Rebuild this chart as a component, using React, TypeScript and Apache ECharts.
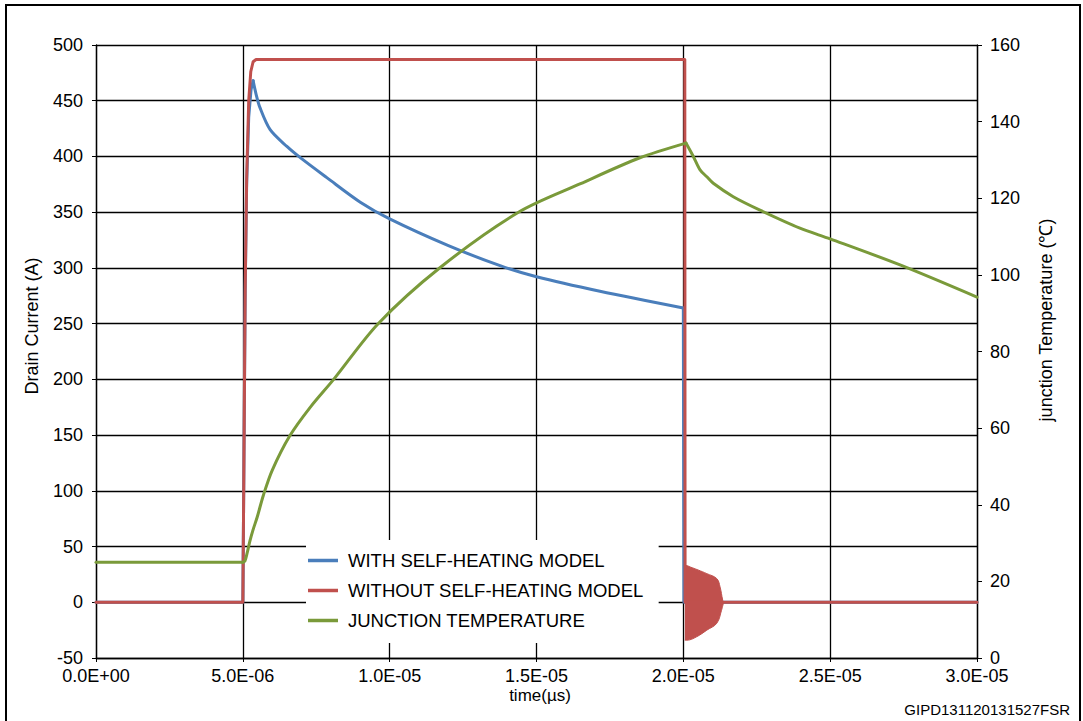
import React, { useEffect, useRef } from 'react';
import * as echarts from 'echarts';

// ---------- data ----------
const X_MIN = 0;
const X_MAX = 3e-5;
const X_STEP = 5e-6;
const CURRENT_MIN = -50;
const CURRENT_MAX = 500;
const CURRENT_STEP = 50;
const TEMP_MIN = 0;
const TEMP_MAX = 160;
const TEMP_STEP = 20;

const SERIES_NAMES = ['WITH SELF-HEATING MODEL', 'WITHOUT SELF-HEATING MODEL', 'JUNCTION TEMPERATURE'];
const X_TITLE = 'time(µs)';
const Y_LEFT_TITLE = 'Drain Current (A)';
const Y_RIGHT_TITLE = 'junction Temperature (℃)';
const FIGURE_ID = 'GIPD131120131527FSR';

// with self-heating (drain current, A): turn-on edge, decay, turn-off
const blueRiseTime = [0, 5.0e-6, 5.03e-6, 5.08e-6, 5.13e-6, 5.2e-6, 5.28e-6, 5.35e-6];
const blueRiseCurrent = [0, 0, 100, 280, 375, 435, 460, 468];
const blueDecayTime = [5.35e-6, 5.45e-6, 5.58e-6, 5.93e-6, 6.5e-6, 7.0e-6, 7.86e-6, 9.0e-6, 1.0e-5, 1.2e-5, 1.376e-5, 1.5e-5, 1.716e-5, 2.0e-5];
const blueDecayCurrent = [468, 456, 444, 424, 409, 398, 381, 359, 344, 320, 302, 292, 279, 264];
const blueOffTime = [2.0e-5, 2.002e-5, 3.0e-5];
const blueOffCurrent = [264, 0, 0];

// without self-heating (drain current, A)
const redTime = [0, 5.0e-6, 5.03e-6, 5.08e-6, 5.13e-6, 5.2e-6, 5.27e-6, 5.35e-6, 5.45e-6, 2.005e-5, 2.006e-5, 3.0e-5];
const redCurrent = [0, 0, 100, 280, 380, 450, 476, 485, 487, 487, 0, 0];

// ringing after turn-off: upper and lower envelope (A)
const ringUpperTime = [2.005e-5, 2.009e-5, 2.023e-5, 2.05e-5, 2.08e-5, 2.114e-5, 2.125e-5, 2.134e-5, 2.137e-5];
const ringUpper = [33, 33, 31.7, 29, 25.7, 21.2, 13.8, 2, 0];
const ringLowerTime = [2.005e-5, 2.012e-5, 2.045e-5, 2.08e-5, 2.114e-5, 2.13e-5, 2.137e-5];
const ringLower = [-34, -34, -31, -25, -18.8, -7.2, 0];

// junction temperature (°C): before turn-on, heating, cooling
const tempFlatTime = [0, 5.0e-6];
const tempFlatValue = [25, 25];
const tempHeatTime = [5.0e-6, 5.07e-6, 5.15e-6, 5.24e-6, 5.35e-6, 5.49e-6, 5.7e-6, 6.0e-6, 6.6e-6, 7.3e-6, 8.1e-6, 9.6e-6, 1.17e-5, 1.44e-5, 1.65e-5, 1.85e-5, 2.009e-5];
const tempHeatValue = [25, 25.3, 27.5, 30.5, 33.5, 36.8, 42.5, 49, 58, 65.5, 72.8, 87.2, 101.8, 116.4, 123.8, 130.5, 134.4];
const tempCoolTime = [2.009e-5, 2.034e-5, 2.057e-5, 2.08e-5, 2.102e-5, 2.17e-5, 2.261e-5, 2.397e-5, 2.5e-5, 2.738e-5, 3.0e-5];
const tempCoolValue = [134.4, 130.9, 127.4, 125.6, 123.9, 120.4, 116.9, 112.2, 109.4, 102.6, 94.2];

const COLORS = ['#4a7ebb', '#c0504d', '#7a9a3a'];
const FONT = '"Liberation Sans", Arial, sans-serif';

const zip = (t: number[], v: number[]) => t.map((x, i) => [x, v[i]]);

const fmtExp = (v: number) => {
  if (Math.abs(v) < 1e-15) return '0.0E+00';
  const [m, e] = v.toExponential(1).split('e');
  const n = parseInt(e, 10);
  return m + 'E' + (n < 0 ? '-' : '+') + String(Math.abs(n)).padStart(2, '0');
};

export default function App() {
  const ref = useRef<HTMLDivElement>(null);
  useEffect(() => {
    if (!ref.current) return;
    const chart = echarts.init(ref.current, undefined, { renderer: 'svg' });
    const black = '#000';
    const lineW = 3;
    const line = (name: string, data: number[][], color: string, z: number, extra: any = {}) => ({
      name,
      type: 'line',
      data,
      symbol: 'none',
      color,
      lineStyle: { width: lineW, color, cap: 'round', join: 'round' },
      z,
      ...extra,
    });
    chart.setOption({
      animation: false,
      backgroundColor: '#fff',
      grid: { left: 96, right: 106, top: 45, bottom: 63 },
      legend: {
        data: SERIES_NAMES,
        orient: 'vertical',
        left: 306,
        top: 540,
        padding: [11, 15, 13, 2],
        backgroundColor: '#fff',
        icon: 'rect',
        itemWidth: 30,
        itemHeight: 3.5,
        itemGap: 11,
        textStyle: { fontSize: 18.5, lineHeight: 18, color: black, fontFamily: FONT, padding: [0, 0, 0, 5] },
      },
      xAxis: {
        type: 'value',
        min: X_MIN,
        max: X_MAX,
        interval: X_STEP,
        axisLine: { onZero: false, lineStyle: { color: black, width: 1.3 } },
        axisTick: { show: true, length: 4, lineStyle: { color: black } },
        axisLabel: { formatter: fmtExp, color: black, fontSize: 18, fontFamily: FONT, margin: 9 },
        splitLine: { show: true, lineStyle: { color: black, width: 1.3 } },
      },
      yAxis: [
        {
          type: 'value',
          min: CURRENT_MIN,
          max: CURRENT_MAX,
          interval: CURRENT_STEP,
          axisLine: { show: true, lineStyle: { color: black, width: 1.3 } },
          axisTick: { show: true, length: 4, lineStyle: { color: black } },
          axisLabel: { color: black, fontSize: 18, fontFamily: FONT, margin: 13 },
          splitLine: { show: true, lineStyle: { color: black, width: 1.3 } },
        },
        {
          type: 'value',
          min: TEMP_MIN,
          max: TEMP_MAX,
          interval: TEMP_STEP,
          position: 'right',
          axisLine: { show: true, lineStyle: { color: black, width: 1.3 } },
          axisTick: { show: true, length: 5, lineStyle: { color: black } },
          axisLabel: { color: black, fontSize: 18, fontFamily: FONT, margin: 13 },
          splitLine: { show: false },
        },
      ],
      series: [
        line(SERIES_NAMES[0], zip(blueRiseTime, blueRiseCurrent), COLORS[0], 2),
        line('blueDecay', zip(blueDecayTime, blueDecayCurrent), COLORS[0], 2, { smooth: 0.3 }),
        line('blueOff', zip(blueOffTime, blueOffCurrent), COLORS[0], 2),
        line(SERIES_NAMES[1], zip(redTime, redCurrent), COLORS[1], 3),
        line('ringUpper', zip(ringUpperTime, ringUpper), COLORS[1], 3, {
          smooth: 0.4,
          lineStyle: { width: 1, color: COLORS[1] },
          areaStyle: { color: COLORS[1], opacity: 1 },
        }),
        line('ringLower', zip(ringLowerTime, ringLower), COLORS[1], 3, {
          smooth: 0.4,
          lineStyle: { width: 1, color: COLORS[1] },
          areaStyle: { color: COLORS[1], opacity: 1 },
        }),
        line(SERIES_NAMES[2], zip(tempFlatTime, tempFlatValue), COLORS[2], 4, { yAxisIndex: 1 }),
        line('tempHeat', zip(tempHeatTime, tempHeatValue), COLORS[2], 4, { yAxisIndex: 1, smooth: 0.3 }),
        line('tempCool', zip(tempCoolTime, tempCoolValue), COLORS[2], 4, { yAxisIndex: 1, smooth: 0.3 }),
      ],
      graphic: [
        {
          type: 'rect',
          shape: { x: 6, y: 5, width: 1074, height: 740 },
          style: { fill: 'none', stroke: black, lineWidth: 2 },
          silent: true,
          z: 100,
        },
        {
          type: 'text',
          x: 32,
          y: 326,
          rotation: Math.PI / 2,
          style: { text: Y_LEFT_TITLE, fontSize: 18, fontFamily: FONT, fill: black, align: 'center', verticalAlign: 'middle' },
        },
        {
          type: 'text',
          x: 1046,
          y: 320,
          rotation: Math.PI / 2,
          style: { text: Y_RIGHT_TITLE, fontSize: 18, fontFamily: FONT, fill: black, align: 'center', verticalAlign: 'middle' },
        },
        {
          type: 'text',
          x: 540,
          y: 695,
          style: { text: X_TITLE, fontSize: 17, fontFamily: FONT, fill: black, align: 'center', verticalAlign: 'middle' },
        },
        {
          type: 'text',
          x: 1070,
          y: 709,
          style: { text: FIGURE_ID, fontSize: 15, fontFamily: FONT, fill: black, align: 'right', verticalAlign: 'middle' },
        },
      ],
    });
    return () => chart.dispose();
  }, []);
  return <div ref={ref} style={{ position: 'fixed', left: 0, top: 0, width: 1083, height: 721 }} />;
}
